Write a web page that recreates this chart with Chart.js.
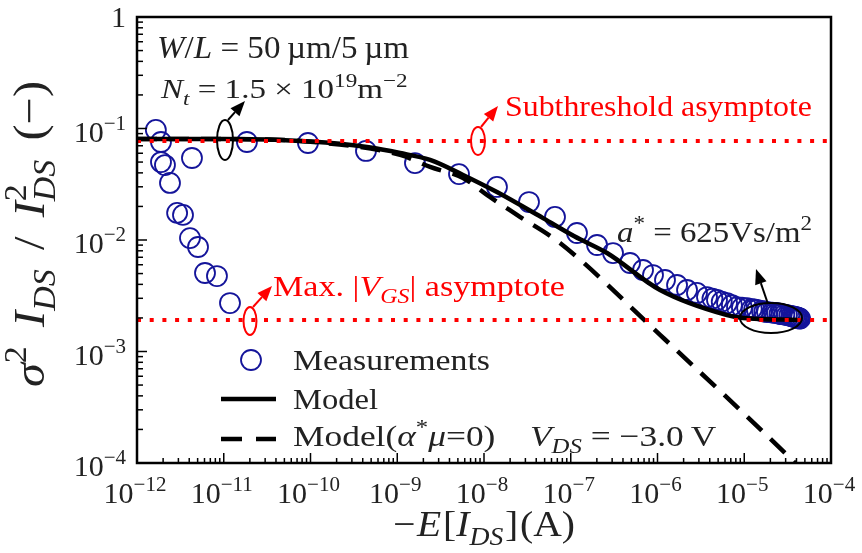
<!DOCTYPE html>
<html>
<head>
<meta charset="utf-8">
<script src="https://cdn.jsdelivr.net/npm/chart.js"></script>
<style>
html,body{margin:0;padding:0;background:#fff;}
#wrap{width:862px;height:553px;}
</style>
</head>
<body>
<div id="wrap"><canvas id="c" width="862" height="553"></canvas></div>
<script>
// ---------- data ----------
const measX = [1.65e-12, 1.89e-12, 1.89e-12, 2.1e-12, 4.3e-12, 2.4e-12, 2.9e-12, 3.39e-12, 4.08e-12, 5.05e-12,
  6.08e-12, 8.35e-12, 1.18e-11, 1.85e-11, 9.35e-11, 4.36e-10, 1.60e-9, 5.15e-9, 1.41e-8, 3.30e-8,
  6.58e-8, 1.18e-7, 2.01e-7, 3.07e-7, 4.82e-7, 6.81e-7, 8.87e-7, 1.22e-6, 1.68e-6, 2.19e-6,
  2.85e-6, 3.72e-6, 4.3e-6, 4.85e-6, 5.5e-6, 6.33e-6, 7.2e-6, 8.25e-6, 9.4e-6, 1.08e-5, 1.22e-5,
  1.3e-5, 1.40e-5, 1.6e-5, 1.7e-5, 1.83e-5, 2.1e-5, 2.25e-5, 2.39e-5, 2.55e-5, 2.7e-5, 2.9e-5,
  3.11e-5, 3.3e-5, 3.5e-5, 3.65e-5, 3.8e-5, 3.95e-5, 4.06e-5, 4.2e-5, 4.3e-5, 4.4e-5];
const measY = [0.097, 0.0757, 0.050, 0.047, 0.0544, 0.0325, 0.0175, 0.0168, 0.0104, 0.00865,
  0.00506, 0.00475, 0.00272, 0.0757, 0.0741, 0.0629, 0.049, 0.039, 0.0299, 0.0219,
  0.0161, 0.01155, 0.00902, 0.00764, 0.00622, 0.00538, 0.00485, 0.00438, 0.00395, 0.00356,
  0.00335, 0.00308, 0.00298, 0.0029, 0.0028, 0.00272, 0.0026, 0.0025, 0.00247, 0.00245, 0.0024,
  0.00238, 0.00236, 0.00231, 0.00228, 0.00226, 0.00223, 0.00222, 0.00221, 0.00218, 0.00216, 0.00214,
  0.00212, 0.0021, 0.00208, 0.00206, 0.00204, 0.00203, 0.00202, 0.002, 0.00198, 0.00197];

const modelX = [1e-12, 1e-11, 1e-10, 4.48e-10, 1.08e-9, 2.39e-9, 5.73e-9, 1.41e-8, 4.79e-8, 1.1e-7, 2.62e-7, 1.07e-6, 6.33e-6, 9.68e-6, 4.3e-5];
const modelY = [0.0805, 0.0805, 0.0765, 0.0682, 0.0603, 0.0522, 0.0383, 0.0269, 0.0157, 0.0108, 0.00764, 0.00356, 0.00212, 0.0020, 0.00192];

const model0X = [1e-12, 1e-11, 1e-10, 1.08e-9, 2.39e-9, 5.73e-9, 1.17e-8, 2.40e-8, 7.52e-8, 1.07e-6, 3.37e-5, 3.85e-5];
const model0Y = [0.0805, 0.0805, 0.0760, 0.058, 0.0452, 0.036, 0.0243, 0.0168, 0.0094, 0.00141, 1.11e-4, 1.0e-4];

const subthresholdLevel = 0.0772;
const maxVgsLevel = 0.00192;
const xRange = [1e-12, 1e-4];
const yRange = [1e-4, 1];

const xTickExps = [-12, -11, -10, -9, -8, -7, -6, -5, -4];
const yTickExps = [0, -1, -2, -3, -4];

// ---------- helpers ----------
const FONT = '"Liberation Serif", "DejaVu Serif", serif';
const pts = (xs, ys) => xs.map((x, i) => ({x: x, y: ys[i]}));

// rich text: runs of [text, style]; style letters:
// i=italic, b=subscript, p=superscript, o=overlap previous run, g=may receive extra space before it
function drawRich(ctx, runs, x, y, size, color, align, targetW, maxS) {
  const lay = [];
  let cx = 0, lastStart = 0, gaps = 0;
  for (const [t, st] of runs) {
    const it = st.includes('i'), sub = st.includes('b'), sup = st.includes('p'), ov = st.includes('o');
    const fs = (sub || sup) ? size * 0.7 : size;
    const font = (it ? 'italic ' : '') + fs + 'px ' + FONT;
    ctx.font = font;
    const w = ctx.measureText(t).width;
    if (st.includes('g')) gaps++;
    const start = ov ? lastStart : cx;
    const dy = sub ? size * 0.24 : (sup ? -size * 0.40 : 0);
    lay.push({t, font, x: start, dy, gi: gaps});
    if (ov) { cx = Math.max(cx, start + w); }
    else { lastStart = start; cx = start + w; }
  }
  const W = cx;
  let sx = 1, ls = 0;
  if (targetW) {
    sx = Math.min(maxS || 1.18, Math.max(0.85, targetW / W));
    const rest = targetW - W * sx;
    ls = gaps > 0 && rest > 0 ? rest / gaps / sx : 0;
  }
  const total = W + gaps * ls;
  const off = align === 'center' ? -total / 2 : (align === 'right' ? -total : 0);
  ctx.save();
  ctx.translate(x, y);
  ctx.scale(sx, 1);
  ctx.fillStyle = color;
  ctx.textBaseline = 'alphabetic';
  ctx.textAlign = 'left';
  for (const l of lay) { ctx.font = l.font; ctx.fillText(l.t, off + l.x + l.gi * ls, l.dy); }
  ctx.restore();
}

function drawPow(ctx, e, x, y, align) {
  if (e === 0) { drawRich(ctx, [['1', '']], x, y, 30, '#222', align); return; }
  drawRich(ctx, [['10', ''], ['\u2212' + Math.abs(e), 'p']], x, y, 30, '#222', align);
}

function ellipse(ctx, cx, cy, rx, ry, color) {
  ctx.save(); ctx.beginPath(); ctx.ellipse(cx, cy, rx, ry, 0, 0, Math.PI * 2);
  ctx.strokeStyle = color; ctx.lineWidth = 2; ctx.stroke(); ctx.restore();
}
function arrow(ctx, x0, y0, x1, y1, color) {
  const ang = Math.atan2(y1 - y0, x1 - x0), L = 15, H = 6;
  const bx = x1 - L * Math.cos(ang), by = y1 - L * Math.sin(ang);
  ctx.save(); ctx.strokeStyle = color; ctx.fillStyle = color; ctx.lineWidth = 2;
  ctx.beginPath(); ctx.moveTo(x0, y0); ctx.lineTo(bx, by); ctx.stroke();
  ctx.beginPath(); ctx.moveTo(x1, y1);
  ctx.lineTo(bx + H * Math.sin(ang), by - H * Math.cos(ang));
  ctx.lineTo(bx - H * Math.sin(ang), by + H * Math.cos(ang));
  ctx.closePath(); ctx.fill(); ctx.restore();
}

const NAVY = '#14149a', RED = '#ff0000', BLACK = '#000';

const decor = {
  id: 'decor',
  afterDraw(chart) {
    const ctx = chart.ctx, a = chart.chartArea, xs = chart.scales.x, ys = chart.scales.y;
    ctx.save();
    // frame
    ctx.strokeStyle = BLACK; ctx.lineWidth = 2.5;
    ctx.strokeRect(a.left, a.top, a.right - a.left, a.bottom - a.top);
    // inward ticks
    ctx.lineWidth = 1.5;
    for (let e = xTickExps[0]; e <= xTickExps[xTickExps.length - 1]; e++) {
      for (let k = 1; k <= 9; k++) {
        const v = k * Math.pow(10, e);
        if (v > xRange[1] * 1.0001) break;
        const px = xs.getPixelForValue(v), len = k === 1 ? 10 : 5;
        ctx.beginPath(); ctx.moveTo(px, a.bottom); ctx.lineTo(px, a.bottom - len); ctx.stroke();
      }
    }
    for (let e = yTickExps[yTickExps.length - 1]; e <= yTickExps[0]; e++) {
      for (let k = 1; k <= 9; k++) {
        const v = k * Math.pow(10, e);
        if (v > yRange[1] * 1.0001) break;
        const py = ys.getPixelForValue(v), len = k === 1 ? 10 : 6;
        ctx.beginPath(); ctx.moveTo(a.left, py); ctx.lineTo(a.left + len, py); ctx.stroke();
      }
    }
    // tick labels
    for (const e of xTickExps) drawPow(ctx, e, xs.getPixelForValue(Math.pow(10, e)) - 2, a.bottom + 40, 'center');
    for (const e of yTickExps) {
      const py = ys.getPixelForValue(Math.pow(10, e));
      drawPow(ctx, e, a.left - 11, py + (e === 0 ? 10 : 13), 'right');
    }
    // axis titles
    drawRich(ctx, [['\u2212', ''], ['E', 'ig'], ['[', 'g'], ['I', 'i'], ['DS', 'ib'], [']', 'g'], ['(A)', 'g']],
      (a.left + a.right) / 2, 536, 36, '#222', 'center', 182, 1.1);
    ctx.save(); ctx.translate(44, 234); ctx.rotate(-Math.PI / 2);
    drawRich(ctx, [['\u03c3', 'i'], ['2', 'p'], ['I', 'ig'], ['DS', 'ib'], ['/', 'g'], ['I', 'ig'], ['2', 'p'], ['DS', 'ibo'], ['(\u2212)', 'g']],
      0, 0, 44, '#222', 'center', 306, 1.1);
    ctx.restore();

    // annotations
    drawRich(ctx, [['W', 'i'], ['/', ''], ['L', 'i'], [' = 50\u2009\u00b5m/5\u2009\u00b5m', '']], 157, 58, 31, '#222', 'left', 252);
    drawRich(ctx, [['N', 'i'], ['t', 'ib'], [' = 1.5 \u00d7 10', ''], ['19', 'p'], ['m', ''], ['\u22122', 'p']], 161, 98, 28, '#222', 'left', 258);
    drawRich(ctx, [['Subthreshold asymptote', '']], 505, 116, 30, RED, 'left', 307);
    drawRich(ctx, [['Max. |', ''], ['V', 'i'], ['GS', 'ib'], ['| asymptote', '']], 273, 296, 30, RED, 'left', 292);
    drawRich(ctx, [['a', 'i'], ['*', 'p'], [' = 625Vs/m', ''], ['2', 'p']], 617, 242, 30, '#222', 'left', 195);
    drawRich(ctx, [['V', 'i'], ['DS', 'ib'], [' = \u22123.0\u2009V', '']], 530, 446, 30, '#222', 'left', 192);

    ellipse(ctx, 225, 140, 8, 20, BLACK); arrow(ctx, 228, 120, 245, 101, BLACK);
    ellipse(ctx, 478, 141, 7, 14, RED); arrow(ctx, 481, 127, 498, 106, RED);
    ellipse(ctx, 250, 321, 6.5, 14, RED); arrow(ctx, 253, 307, 272, 286, RED);
    ellipse(ctx, 771, 318, 31, 15, BLACK); arrow(ctx, 768, 304, 756, 269, BLACK);

    // legend
    ctx.beginPath(); ctx.arc(251, 360, 10, 0, Math.PI * 2);
    ctx.strokeStyle = NAVY; ctx.lineWidth = 1.8; ctx.stroke();
    ctx.strokeStyle = BLACK; ctx.lineWidth = 4.5;
    ctx.beginPath(); ctx.moveTo(221, 399); ctx.lineTo(276, 399); ctx.stroke();
    ctx.beginPath(); ctx.moveTo(221, 439); ctx.lineTo(242, 439); ctx.moveTo(256, 439); ctx.lineTo(276, 439); ctx.stroke();
    drawRich(ctx, [['Measurements', '']], 293, 370, 30, '#222', 'left', 197);
    drawRich(ctx, [['Model', '']], 293, 409, 30, '#222', 'left', 85);
    drawRich(ctx, [['Model(', ''], ['\u03b1', 'i'], ['*', 'p'], ['\u03bc', 'i'], ['=0)', '']], 293, 446, 30, '#222', 'left', 207);
    ctx.restore();
  }
};

new Chart(document.getElementById('c'), {
  type: 'line',
  data: {
    datasets: [
      { label: 'Subthreshold asymptote', data: pts(xRange, [subthresholdLevel, subthresholdLevel]),
        borderColor: RED, borderWidth: 4, borderDash: [4, 8.7], borderCapStyle: 'butt', pointRadius: 0, order: 0 },
      { label: 'Max. |VGS| asymptote', data: pts(xRange, [maxVgsLevel, maxVgsLevel]),
        borderColor: RED, borderWidth: 4, borderDash: [4, 8.7], borderCapStyle: 'butt', pointRadius: 0, order: 0 },
      { label: 'Model(α*μ=0)', data: pts(model0X, model0Y), borderColor: BLACK, borderWidth: 4.5,
        borderDash: [20, 12], borderCapStyle: 'butt', pointRadius: 0, cubicInterpolationMode: 'monotone', order: 1 },
      { label: 'Model', data: pts(modelX, modelY), borderColor: BLACK, borderWidth: 4.5,
        pointRadius: 0, cubicInterpolationMode: 'monotone', order: 2 },
      { label: 'Measurements', data: pts(measX, measY), showLine: false, pointStyle: 'circle',
        pointRadius: 10, pointBorderWidth: 1.8, pointBorderColor: NAVY, pointBackgroundColor: 'rgba(0,0,0,0)',
        borderColor: NAVY, order: 3 }
    ]
  },
  options: {
    responsive: false, animation: false, devicePixelRatio: 1,
    layout: { padding: { left: 137, right: 31, top: 17, bottom: 90 } },
    plugins: { legend: { display: false }, tooltip: { enabled: false }, title: { display: false } },
    events: [],
    scales: {
      x: { type: 'logarithmic', min: xRange[0], max: xRange[1],
        ticks: { display: false, autoSkip: false }, grid: { display: false, drawTicks: false }, border: { display: false },
        afterFit(s) { s.height = 0; } },
      y: { type: 'logarithmic', min: yRange[0], max: yRange[1],
        ticks: { display: false, autoSkip: false }, grid: { display: false, drawTicks: false }, border: { display: false },
        afterFit(s) { s.width = 0; } }
    }
  },
  plugins: [decor]
});
</script>
</body>
</html>
